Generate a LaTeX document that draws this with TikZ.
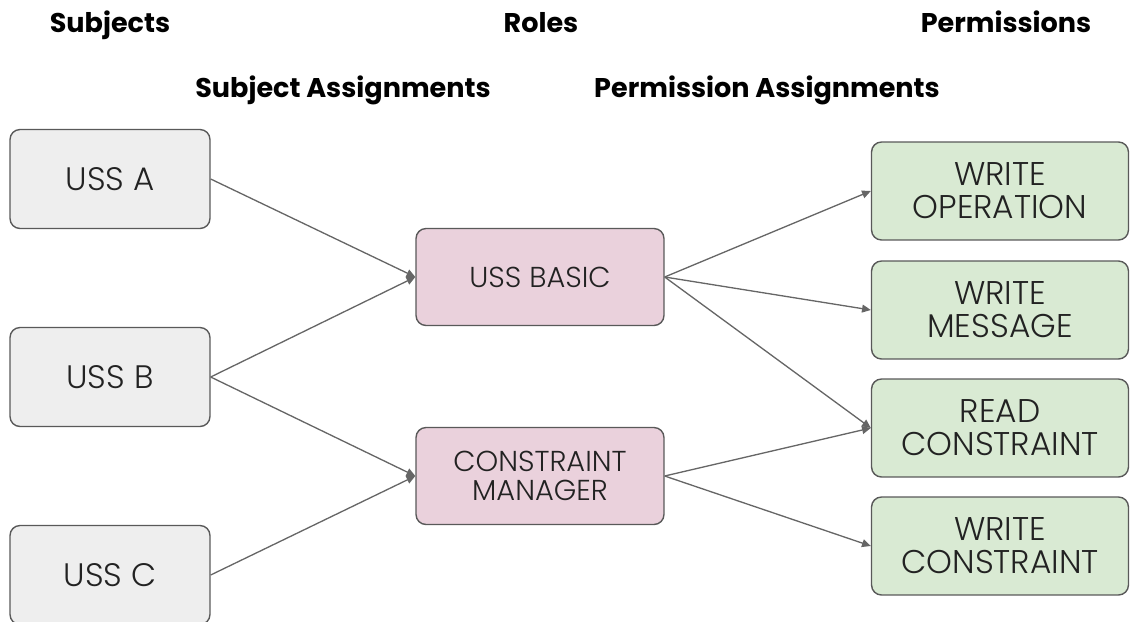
\documentclass[tikz,border=0pt]{standalone}
\usepackage{fontspec}
\setmainfont{Poppins}
\IfFontExistsTF{Poppins Light}{\newfontfamily\boxfont{Poppins Light}}{\newfontfamily\boxfont{Poppins}}
\usetikzlibrary{arrows.meta,calc}
\definecolor{subjfill}{HTML}{EEEEEE}
\definecolor{rolefill}{HTML}{EAD1DC}
\definecolor{permfill}{HTML}{D9EAD3}
\definecolor{boxline}{HTML}{595959}
\definecolor{linec}{HTML}{666666}
\definecolor{textc}{HTML}{222222}
\begin{document}
\begin{tikzpicture}[x=0.02cm,y=-0.02cm,
  box/.style={draw=boxline, line width=0.8pt, rounded corners=0.2cm, align=center,
    text=textc, inner sep=0pt},
  subjbox/.style={box, fill=subjfill, minimum width=4cm, minimum height=1.98cm,
    font=\boxfont\fontsize{18.5}{19}\selectfont},
  rolebox/.style={box, fill=rolefill, minimum width=4.96cm, minimum height=1.94cm,
    font=\boxfont\fontsize{16.4}{16.8}\selectfont},
  permbox/.style={box, fill=permfill, minimum width=5.14cm, minimum height=1.96cm,
    font=\boxfont\fontsize{18.7}{18.9}\selectfont},
  head/.style={anchor=base, font=\bfseries\fontsize{15.4}{18}\selectfont, text=black},
  conn/.style={draw=linec, line width=0.75pt, -{Triangle[length=5pt,width=4.5pt]}}]
\path[use as bounding box] (0,0) rectangle (1133,622);
% headers
\node[head] (h1) at (110,32) {Subjects};
\node[head] (h2) at (541,32) {Roles};
\node[head] (h3) at (1006,32) {Permissions};
\node[head] (h4) at (343,97) {Subject Assignments};
\node[head] (h5) at (767,97) {Permission Assignments};
% subjects
\node[subjbox] (a) at (110,179) {USS A};
\node[subjbox] (b) at (110,377) {USS B};
\node[subjbox] (c) at (110,575) {USS C};
% roles
\node[rolebox] (basic) at (540,277) {USS BASIC};
\node[rolebox] (cm) at (540,476) {CONSTRAINT\\MANAGER};
% permissions
\node[permbox] (wo) at (1000,191) {WRITE\\OPERATION};
\node[permbox] (wm) at (1000,310) {WRITE\\MESSAGE};
\node[permbox] (rc) at (1000,428) {READ\\CONSTRAINT};
\node[permbox] (wc) at (1000,546) {WRITE\\CONSTRAINT};
% connectors
\draw[conn] (a.east) -- (basic.west);
\draw[conn] (b.east) -- (basic.west);
\draw[conn] (b.east) -- (cm.west);
\draw[conn] (c.east) -- (cm.west);
\draw[conn] (basic.east) -- (wo.west);
\draw[conn] (basic.east) -- (wm.west);
\draw[conn] (basic.east) -- (rc.west);
\draw[conn] (cm.east) -- (rc.west);
\draw[conn] (cm.east) -- (wc.west);
\end{tikzpicture}
\end{document}
